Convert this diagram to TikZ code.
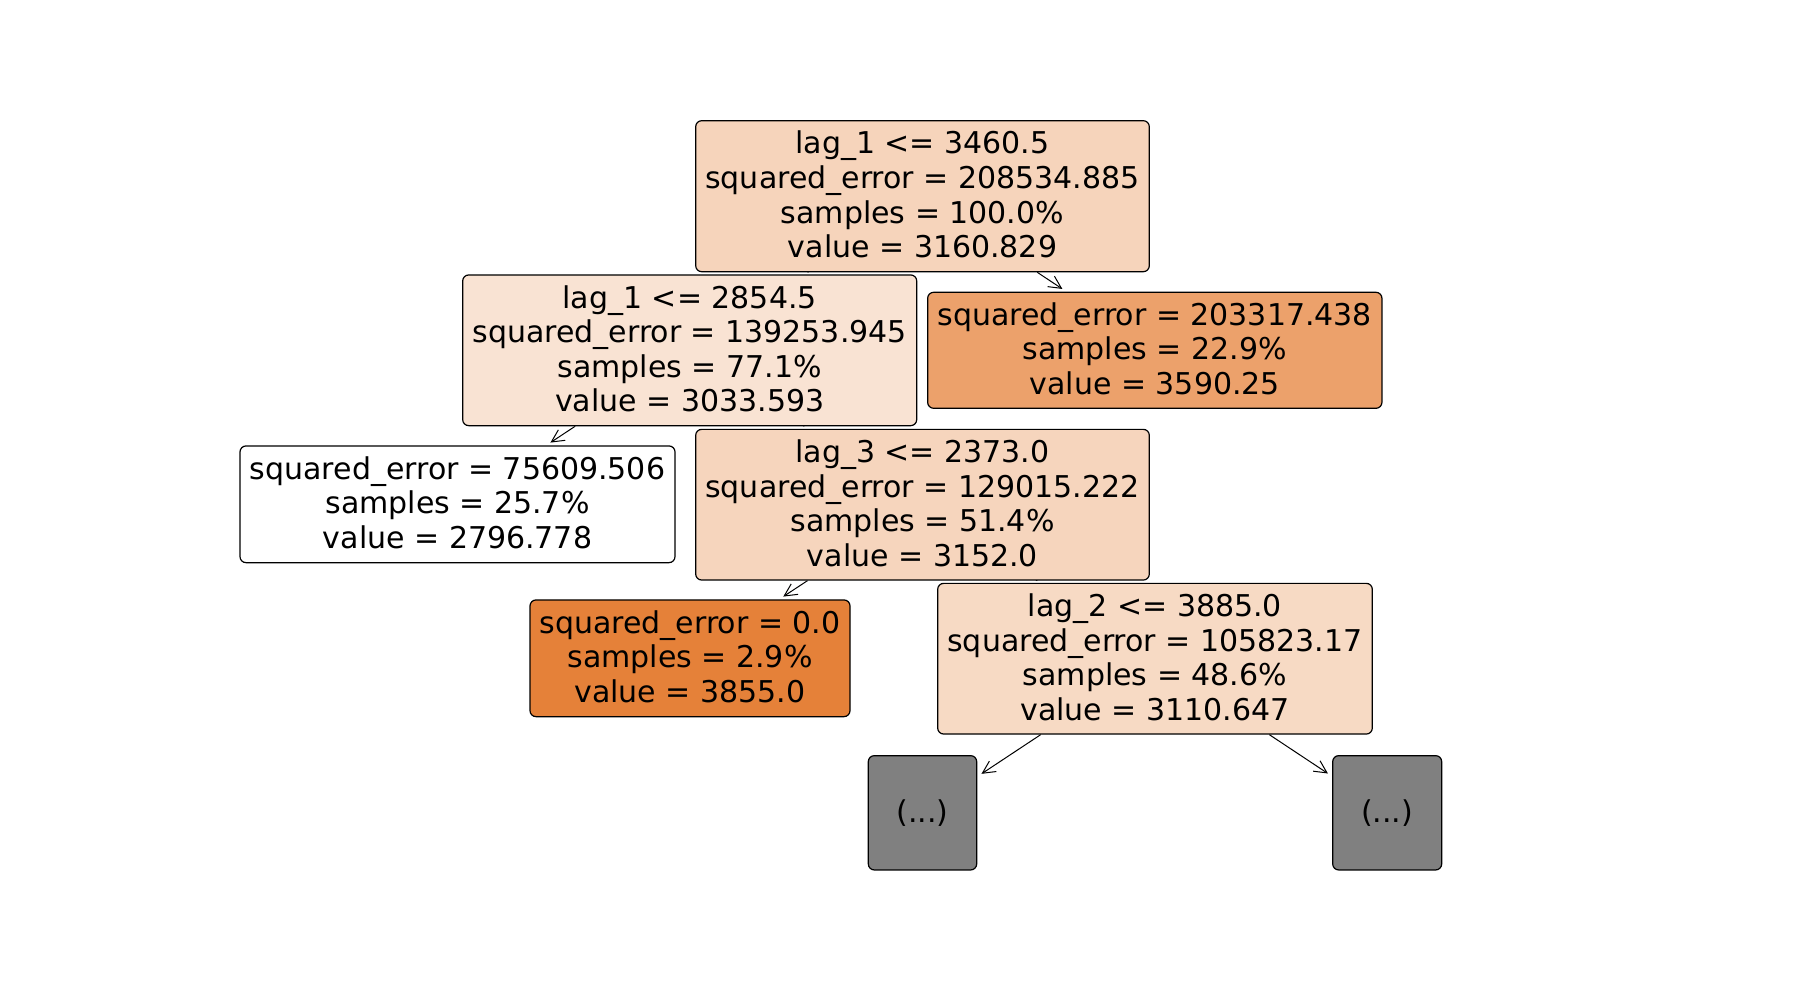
\documentclass[tikz,border=0pt]{standalone}
\usepackage{fontspec}
\setmainfont{DejaVu Sans}
\usetikzlibrary{arrows.meta,backgrounds}
\definecolor{cRoot}{RGB}{246,212,187}
\definecolor{cLc}{RGB}{249,227,211}
\definecolor{cRc}{RGB}{236,161,107}
\definecolor{cLag3}{RGB}{246,213,189}
\definecolor{cLag2}{RGB}{247,218,196}
\definecolor{cMax}{RGB}{229,129,57}
\definecolor{cGray}{RGB}{128,128,128}
\tikzset{
  treebox/.style={draw=black, line width=1.2pt, rounded corners=6pt,
    inner sep=0pt, align=center, text=black,
    font=\fontsize{30}{34.6}\selectfont},
  textbox/.style={treebox, text depth=3.5pt},
  edgearrow/.style={line width=1pt, -{Straight Barb[length=12.5pt,width=12.5pt]},
    shorten >=5pt}
}
\begin{document}
\begin{tikzpicture}[x=1pt,y=-1pt]
\useasboundingbox (0,0) rectangle (1800,1000);
\node[textbox, fill=cRoot, minimum width=453.6pt, minimum height=151pt] (root) at (922.5,196.2)
  {lag\_1 <= 3460.5\\squared\_error = 208534.885\\samples = 100.0\%\\value = 3160.829};
\node[textbox, fill=cLc, minimum width=454pt, minimum height=150.7pt] (lc) at (689.7,350.3)
  {lag\_1 <= 2854.5\\squared\_error = 139253.945\\samples = 77.1\%\\value = 3033.593};
\node[textbox, fill=cRc, minimum width=454.3pt, minimum height=116pt] (rc) at (1154.8,350.3)
  {squared\_error = 203317.438\\samples = 22.9\%\\value = 3590.25};
\node[textbox, fill=white, minimum width=435pt, minimum height=116.7pt] (leafl) at (457.5,504.3)
  {squared\_error = 75609.506\\samples = 25.7\%\\value = 2796.778};
\node[textbox, fill=cLag3, minimum width=453.6pt, minimum height=150.7pt] (lag3) at (922.5,504.7)
  {lag\_3 <= 2373.0\\squared\_error = 129015.222\\samples = 51.4\%\\value = 3152.0};
\node[textbox, fill=cMax, minimum width=320pt, minimum height=116.7pt] (leaf0) at (690,658.3)
  {squared\_error = 0.0\\samples = 2.9\%\\value = 3855.0};
\node[textbox, fill=cLag2, minimum width=434.6pt, minimum height=150.7pt] (lag2) at (1155,658.7)
  {lag\_2 <= 3885.0\\squared\_error = 105823.17\\samples = 48.6\%\\value = 3110.647};
\node[treebox, fill=cGray, minimum width=108.4pt, minimum height=114.3pt] (g1) at (922.5,812.8) {(...)};
\node[treebox, fill=cGray, minimum width=109pt, minimum height=114.3pt] (g2) at (1387.2,812.8) {(...)};
\begin{pgfonlayer}{background}
\draw[edgearrow] (root) -- (lc);
\draw[edgearrow] (root) -- (rc);
\draw[edgearrow] (lc) -- (leafl);
\draw[edgearrow] (lc) -- (lag3);
\draw[edgearrow] (lag3) -- (leaf0);
\draw[edgearrow] (lag3) -- (lag2);
\draw[edgearrow] (lag2) -- (g1);
\draw[edgearrow] (lag2) -- (g2);
\end{pgfonlayer}
\end{tikzpicture}
\end{document}
